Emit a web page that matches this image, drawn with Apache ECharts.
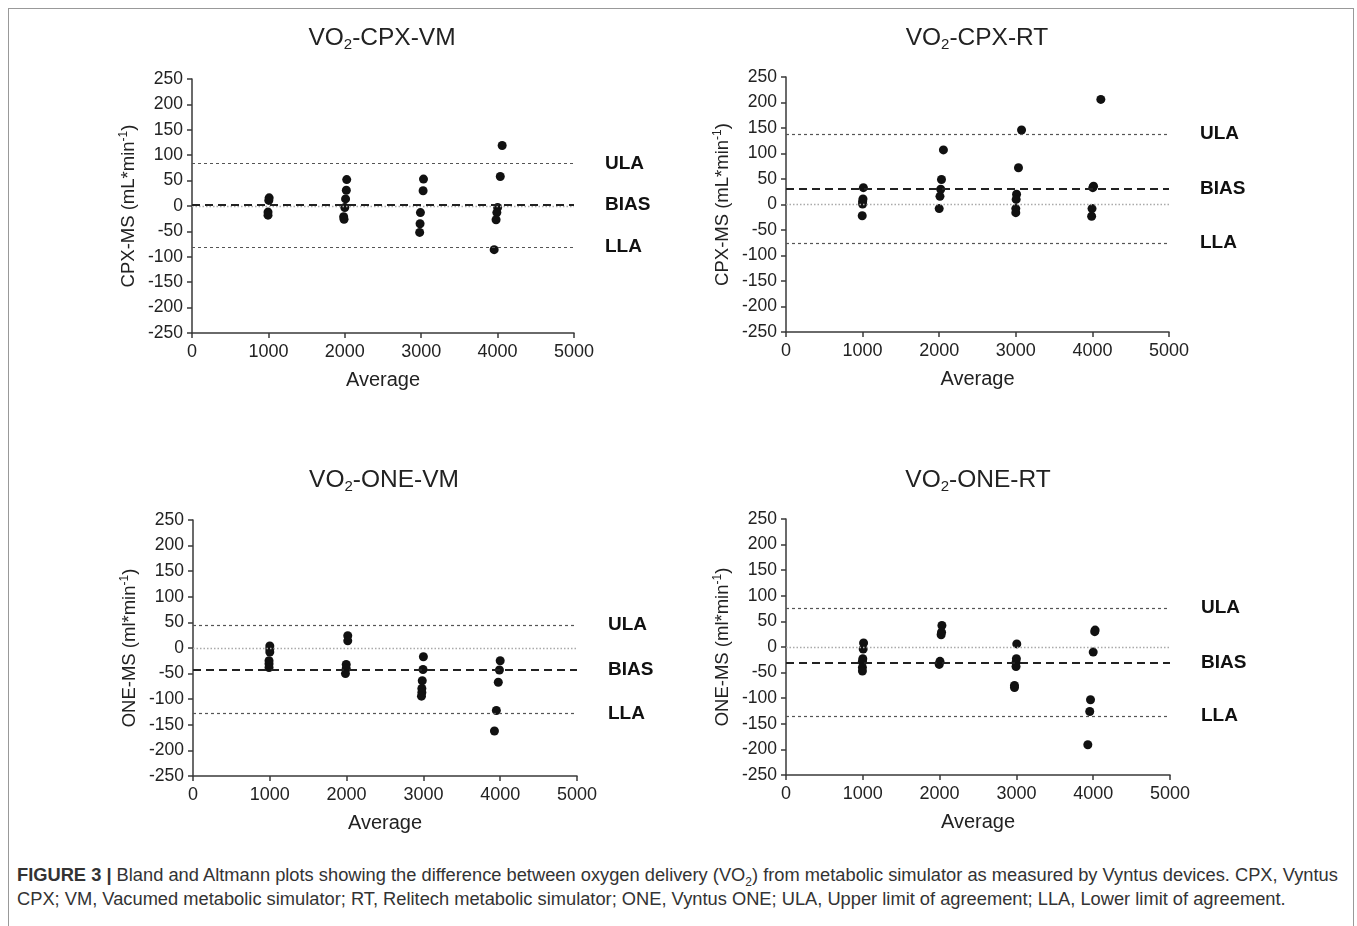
<!DOCTYPE html>
<html>
<head>
<meta charset="utf-8">
<script src="https://cdn.jsdelivr.net/npm/echarts@6/dist/echarts.min.js"></script>
<style>
  body { margin: 0; background: #fff; font-family: "Liberation Sans", Arial, sans-serif; }
  #frame { position: absolute; left: 8px; top: 8px; width: 1344px; height: 930px; z-index: 2;
           border-top: 1px solid #999; border-left: 1px solid #999; border-right: 1px solid #999; }
  #main { position: absolute; left: 0; top: 0; width: 1357px; height: 850px; }
  #caption { position: absolute; left: 17px; top: 863px; font-size: 18.3px; line-height: 24px;
             color: #333; white-space: nowrap; }
  #caption sub { font-size: 12px; line-height: 0; }
</style>
</head>
<body>
<div id="frame"></div>
<div id="main"></div>
<div id="caption"><b>FIGURE 3 |</b> Bland and Altmann plots showing the difference between oxygen delivery (VO<sub>2</sub>) from metabolic simulator as measured by Vyntus devices. CPX, Vyntus<br>CPX; VM, Vacumed metabolic simulator; RT, Relitech metabolic simulator; ONE, Vyntus ONE; ULA, Upper limit of agreement; LLA, Lower limit of agreement.</div>
<script type="text/javascript">
    // 各面板的数据 [Average, difference]
    var cpxVm = [[1010, 16], [1005, 11], [995, -12], [995, -18],
        [2025, 52], [2020, 31], [2010, 14], [2000, -3], [1985, -21], [1990, -26],
        [3030, 53], [3025, 30], [2990, -13], [2985, -35], [2980, -52],
        [4060, 119], [4035, 58], [4000, -3], [3990, -13], [3980, -27], [3955, -86]];
    var cpxRt = [[1010, 33], [1005, 11], [1000, 6], [1000, 1], [995, -22],
        [2055, 107], [2030, 49], [2020, 30], [2010, 16], [2000, -8],
        [3075, 146], [3035, 72], [3010, 20], [3005, 10], [3000, -8], [3000, -16],
        [4110, 206], [4015, 36], [4005, 33], [3995, -8], [3990, -23]];
    var oneVm = [[1000, 4], [1000, -2], [1000, -8], [990, -25], [990, -31], [990, -38],
        [2015, 24], [2015, 14], [1995, -32], [1995, -40], [1985, -50],
        [3000, -17], [2995, -42], [2985, -64], [2980, -79], [2980, -87], [2975, -94],
        [4000, -25], [3990, -43], [3975, -67], [3950, -122], [3925, -162]];
    var oneRt = [[1010, 8], [1005, -4], [1000, -23], [995, -28], [995, -40], [995, -47],
        [2030, 42], [2025, 29], [2020, 24], [2005, -28], [1995, -34],
        [3005, 6], [3000, -23], [2995, -30], [2995, -38], [2975, -75], [2975, -79],
        [4025, 33], [4020, 30], [4000, -10], [3965, -103], [3955, -126], [3930, -191]];

    // [ULA, BIAS, LLA]
    var cpxVmLimits = [84, 2, -81];
    var cpxRtLimits = [138, 31, -76];
    var oneVmLimits = [45, -42, -128];
    var oneRtLimits = [76, -30, -135];

    var panelNames = ['CPX-VM', 'CPX-RT', 'ONE-VM', 'ONE-RT'];
    var yNames = ['CPX-MS (mL*min', 'CPX-MS (mL*min', 'ONE-MS (ml*min', 'ONE-MS (ml*min'];
    var xTicks = [0, 1000, 2000, 3000, 4000, 5000];
    var yTicks = [-250, 250, 50]; // min, max, interval

    var panelData = [cpxVm, cpxRt, oneVm, oneRt];
    var panelLimits = [cpxVmLimits, cpxRtLimits, oneVmLimits, oneRtLimits];

    var grids = [
        {left: 192, top: 79, width: 382, height: 254},
        {left: 786, top: 77, width: 383, height: 255},
        {left: 193, top: 520, width: 384, height: 256},
        {left: 786, top: 519, width: 384, height: 256}
    ];
    var titlePos = [[382, 24], [977, 24], [384, 466], [978, 466]];

    var font = '"Liberation Sans", Arial, sans-serif';
    var axisColor = '#3a3a3a';

    var myChart = echarts.init(document.getElementById('main'));

    var option = {
        animation: false,
        backgroundColor: 'transparent',
        title: [],
        grid: grids,
        xAxis: [],
        yAxis: [],
        series: []
    };

    for (var i = 0; i < 4; i++) {
        option.title.push({
            text: '{a|VO}{s|2}{a|-' + panelNames[i] + '}',
            left: titlePos[i][0],
            top: titlePos[i][1],
            textAlign: 'center',
            padding: 0,
            textStyle: {
                fontWeight: 'normal',
                rich: {
                    a: {fontSize: 24.5, lineHeight: 28, fontWeight: 'normal', color: '#222', fontFamily: font},
                    s: {fontSize: 15, lineHeight: 12, fontWeight: 'normal', verticalAlign: 'bottom', color: '#222', fontFamily: font}
                }
            }
        });
        option.xAxis.push({
            type: 'value',
            gridIndex: i,
            min: xTicks[0],
            max: xTicks[xTicks.length - 1],
            interval: 1000,
            name: 'Average',
            nameLocation: 'middle',
            nameGap: 37,
            nameTextStyle: {fontSize: 20, color: '#222', fontFamily: font},
            axisLine: {onZero: false, lineStyle: {color: axisColor, width: 1.5}},
            axisTick: {length: 5, lineStyle: {color: axisColor, width: 1.5}},
            axisLabel: {fontSize: 18, color: '#222', fontFamily: font, margin: 10,
                formatter: function (v) { return String(v); }},
            splitLine: {show: false}
        });
        option.yAxis.push({
            type: 'value',
            gridIndex: i,
            min: yTicks[0],
            max: yTicks[1],
            interval: yTicks[2],
            name: '{a|' + yNames[i] + '}{p|-1}{a|)}',
            nameLocation: 'middle',
            nameRotate: 90,
            nameGap: 52,
            nameTextStyle: {
                rich: {
                    a: {fontSize: 18.5, lineHeight: 22, color: '#222', fontFamily: font},
                    p: {fontSize: 12, lineHeight: 12, verticalAlign: 'top', color: '#222', fontFamily: font}
                }
            },
            axisLine: {onZero: false, lineStyle: {color: axisColor, width: 1.5}},
            axisTick: {length: 5, lineStyle: {color: axisColor, width: 1.5}},
            axisLabel: {fontSize: 17.5, color: '#222', fontFamily: font, margin: 9},
            splitLine: {show: false}
        });

        var lim = panelLimits[i];
        var labelStyle = {show: true, position: 'end', distance: 31, formatter: '{b}',
            fontSize: 19, fontWeight: 'bold', color: '#111', fontFamily: font};
        option.series.push({
            type: 'scatter',
            xAxisIndex: i,
            yAxisIndex: i,
            data: panelData[i],
            symbolSize: 9,
            itemStyle: {color: '#111', opacity: 1},
            z: 3,
            markLine: {
                silent: true,
                symbol: ['none', 'none'],
                data: [
                    {yAxis: 0, name: '', label: {show: false},
                        lineStyle: {color: '#aaa', width: 1.3, type: [1.5, 2]}},
                    {yAxis: lim[0], name: 'ULA', label: labelStyle,
                        lineStyle: {color: '#555', width: 1.2, type: [3, 3]}},
                    {yAxis: lim[1], name: 'BIAS', label: labelStyle,
                        lineStyle: {color: '#222', width: 2.2, type: [8, 5]}},
                    {yAxis: lim[2], name: 'LLA', label: labelStyle,
                        lineStyle: {color: '#555', width: 1.2, type: [3, 3]}}
                ]
            }
        });
    }

    myChart.setOption(option);
</script>
</body>
</html>
